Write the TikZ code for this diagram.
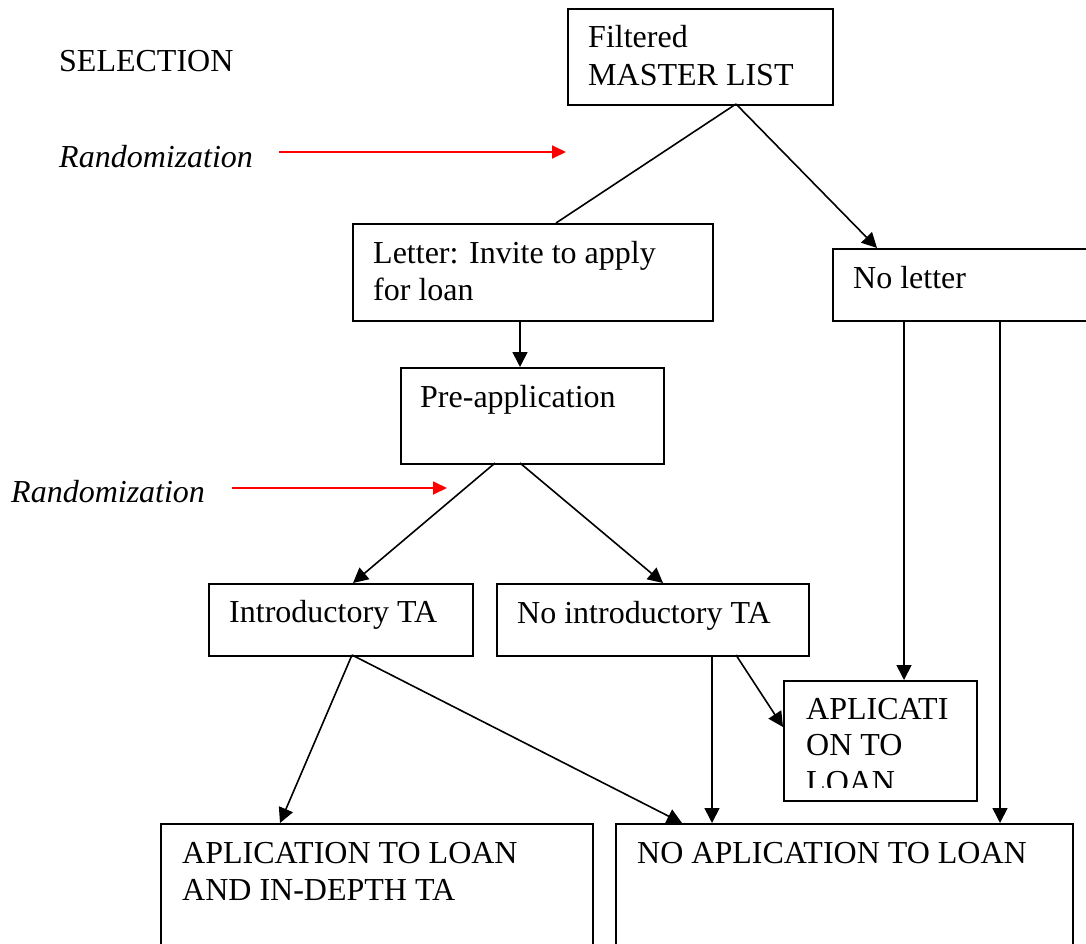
\documentclass[tikz,border=0pt]{standalone}
\usepackage{fontspec}
\setmainfont{Liberation Serif}
\usetikzlibrary{arrows.meta}
\begin{document}
\begin{tikzpicture}[x=1pt,y=-1pt,
  box/.style={draw, line width=1.8pt, inner sep=0pt, anchor=north west},
  txt/.style={anchor=base west, inner sep=0pt, font=\fontsize{32}{37}\selectfont},
  itxt/.style={txt, font=\fontsize{32}{37}\selectfont\itshape},
  conn/.style={line width=1.6pt, -{Triangle[length=15pt,width=15pt]}},
  plainline/.style={line width=1.6pt},
  randarrow/.style={draw=red, line width=1.8pt, -{Triangle[length=14pt,width=13pt]}, red}
]
\useasboundingbox (0,0) rectangle (1086,943);
\clip (0,0) rectangle (1086,943);

% boxes
\node[box, minimum width=265pt, minimum height=96pt] (master) at (567,8) {};
\node[box, minimum width=360pt, minimum height=97pt] (letter) at (352,223) {};
\node[box, minimum width=270pt, minimum height=72pt] (noletter) at (832,248) {};
\node[box, minimum width=263pt, minimum height=96pt] (pre) at (400,367) {};
\node[box, minimum width=264pt, minimum height=72pt] (intro) at (208,583) {};
\node[box, minimum width=312pt, minimum height=72pt] (nointro) at (496,583) {};
\node[box, minimum width=193pt, minimum height=120pt] (aplic) at (783,680) {};
\node[box, minimum width=432pt, minimum height=140pt] (indepth) at (160,823) {};
\node[box, minimum width=457pt, minimum height=140pt] (noapp) at (615,823) {};

% texts
\node[txt] (tsel) at (59,71) {SELECTION};
\node[itxt] (trand1) at (59,167) {Randomization};
\node[itxt] (trand2) at (11,502) {Randomization};
\node[txt] (tm1) at (588,47) {Filtered};
\node[txt] (tm2) at (588,85) {MASTER LIST};
\node[txt] (tl1) at (373,263) {Letter: Invite to apply};
\node[txt] (tl2) at (373,300) {for loan};
\node[txt] (tnl) at (853,288) {No letter};
\node[txt] (tpre) at (420,407) {Pre-application};
\node[txt] (tin) at (229,622) {Introductory TA};
\node[txt] (tnin) at (517,623) {No introductory TA};
\begin{scope}
  \clip (783,680) rectangle (976,787);
  \node[txt] (ta1) at (806,719) {APLICATI};
  \node[txt] (ta2) at (806,755) {ON TO};
  \node[txt] (ta3) at (806,792) {LOAN};
\end{scope}
\node[txt] (tid1) at (182,863) {APLICATION TO LOAN};
\node[txt] (tid2) at (182,900) {AND IN-DEPTH TA};
\node[txt] (tna) at (637,863) {NO APLICATION TO LOAN};

% connector points
\coordinate (mB) at (736,104);
\coordinate (lT) at (556,223);
\coordinate (nlT) at (877,248);
\coordinate (lB) at (520,320);
\coordinate (pT) at (520,367);
\coordinate (pB1) at (495,463);
\coordinate (pB2) at (520,463);
\coordinate (iT) at (353,583);
\coordinate (niT) at (663,583);
\coordinate (nlB1) at (904,320);
\coordinate (nlB2) at (1000,320);
\coordinate (aT) at (904,680);
\coordinate (naT1) at (1000,823);
\coordinate (iB) at (352,655);
\coordinate (idT) at (280,823);
\coordinate (naT2) at (682,823);
\coordinate (niB1) at (712,655);
\coordinate (naT3) at (712,823);
\coordinate (niB2) at (736,655);
\coordinate (aL) at (783,727);
\coordinate (r1a) at (279,152);
\coordinate (r1b) at (566,152);
\coordinate (r2a) at (232,488);
\coordinate (r2b) at (447,488);

% connectors
\draw[plainline] (mB) -- (lT);
\draw[conn] (mB) -- (nlT);
\draw[conn] (lB) -- (pT);
\draw[conn] (pB1) -- (iT);
\draw[conn] (pB2) -- (niT);
\draw[conn] (nlB1) -- (aT);
\draw[conn] (nlB2) -- (naT1);
\draw[conn] (iB) -- (idT);
\draw[conn] (iB) -- (naT2);
\draw[conn] (niB1) -- (naT3);
\draw[conn] (niB2) -- (aL);
\draw[randarrow] (r1a) -- (r1b);
\draw[randarrow] (r2a) -- (r2b);
\end{tikzpicture}
\end{document}
